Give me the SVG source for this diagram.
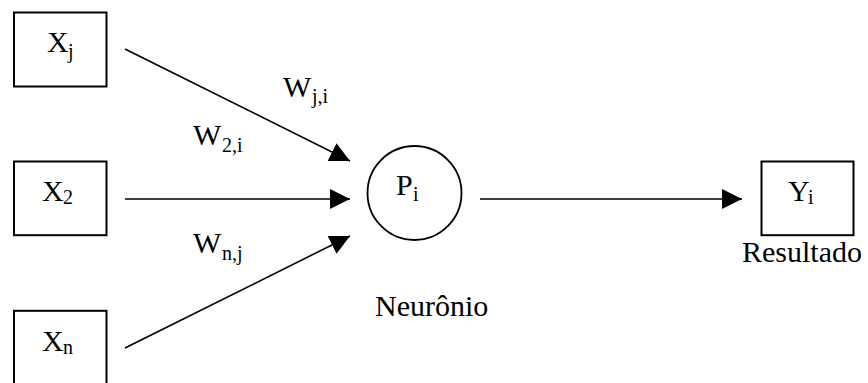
<svg xmlns="http://www.w3.org/2000/svg" width="868" height="383" viewBox="0 0 868 383">
<style>
.box{fill:#fff;stroke:#000;stroke-width:2}
.ln{fill:none;stroke:#000;stroke-width:1.6}
.m{font-size:30px}
.s{font-size:20px}
</style>
<defs>
<marker id="ah" viewBox="0 0 20 20" refX="20" refY="10" markerWidth="20" markerHeight="20" markerUnits="userSpaceOnUse" orient="auto">
<path d="M0,0 L20,10 L0,20 z" fill="#000"/>
</marker>
</defs>
<rect width="868" height="383" fill="#fff"/>
<g id="connectors">
<line class="ln" x1="125" y1="49" x2="350" y2="161" marker-end="url(#ah)"/>
<line class="ln" x1="125" y1="199" x2="350" y2="199" marker-end="url(#ah)"/>
<line class="ln" x1="125" y1="348" x2="350" y2="236" marker-end="url(#ah)"/>
<line class="ln" x1="480" y1="199" x2="742" y2="199" marker-end="url(#ah)"/>
</g>
<g font-family="Liberation Serif, DejaVu Serif, serif">
<g id="node-xj">
<rect class="box" x="14" y="12.5" width="92.5" height="74"/>
<text x="47" y="52" class="m">X</text><text x="68" y="58" class="s">j</text>
</g>
<g id="node-x2">
<rect class="box" x="14" y="161.5" width="92.5" height="73.7"/>
<text x="42" y="201" class="m">X</text><text x="63" y="204" class="s">2</text>
</g>
<g id="node-xn">
<rect class="box" x="14" y="310.8" width="92.5" height="74"/>
<text x="42" y="351" class="m">X</text><text x="63" y="354" class="s">n</text>
</g>
<g id="node-pi">
<circle cx="414.5" cy="193" r="47" fill="#fff" stroke="#000" stroke-width="1.8"/>
<text x="396" y="195" class="m">P</text><text x="413" y="201" class="s">i</text>
<text x="375" y="316" class="m">Neurônio</text>
</g>
<g id="node-yi">
<rect class="box" x="761.5" y="161.5" width="92" height="73.7"/>
<text x="788" y="201" class="m">Y</text><text x="808" y="204" class="s">i</text>
<text x="742" y="262" class="m">Resultado</text>
</g>
<g id="labels">
<text x="283" y="97" class="m">W</text><text x="312" y="103" class="s">j,i</text>
<text x="193" y="145" class="m">W</text><text x="222" y="152" class="s">2,i</text>
<text x="193" y="253" class="m">W</text><text x="222" y="260" class="s">n,j</text>
</g>
</g>
</svg>
